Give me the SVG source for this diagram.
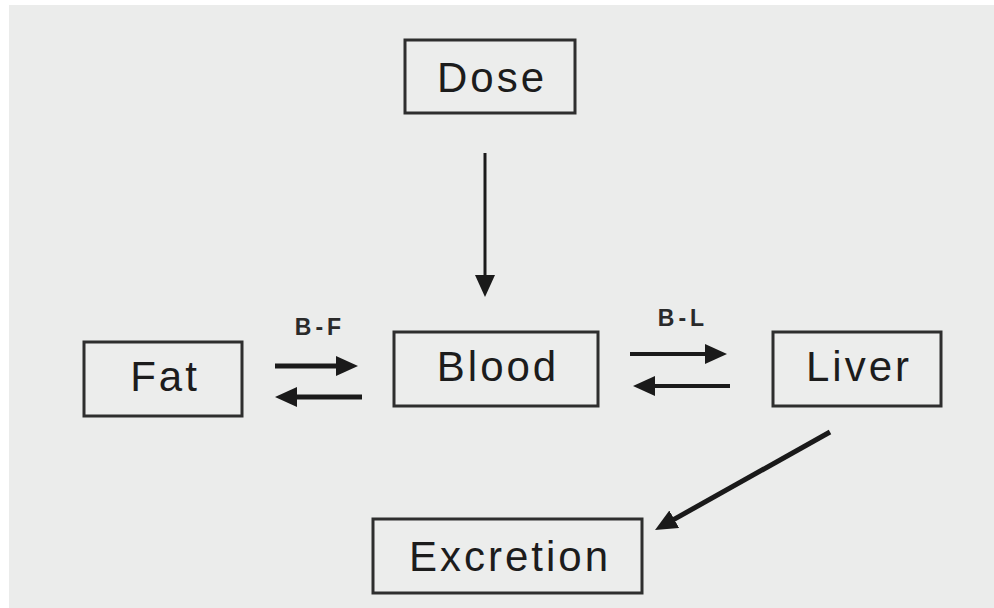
<svg xmlns="http://www.w3.org/2000/svg" width="994" height="608" viewBox="0 0 994 608">
<defs>
<style>
.box{fill:#ecedec;stroke:#2e2e2e;stroke-width:3}
.lbl{font-family:"Liberation Sans",Arial,sans-serif;font-size:42px;letter-spacing:3px;fill:#1c1c1c;text-anchor:middle}
.rate{font-family:"Liberation Sans",Arial,sans-serif;font-size:23px;font-weight:bold;letter-spacing:4px;fill:#2a2a2a;text-anchor:middle}
.arr{stroke:#1a1a1a;fill:none;marker-end:url(#head)}
</style>
<marker id="head" markerUnits="userSpaceOnUse" markerWidth="24" markerHeight="22" refX="10" refY="10" orient="auto" viewBox="0 0 24 22">
<path d="M0,0 L22,10 L0,20 z" fill="#1a1a1a"/>
</marker>
</defs>
<rect x="0" y="0" width="994" height="608" fill="#ffffff"/>
<rect x="9" y="5" width="985" height="603" fill="#ebeceb"/>
<g id="connectors">
<line class="arr" x1="485" y1="153" x2="485" y2="285" stroke-width="3"/>
<line class="arr" x1="275" y1="366" x2="346" y2="366" stroke-width="5"/>
<line class="arr" x1="362" y1="397" x2="287" y2="397" stroke-width="5"/>
<line class="arr" x1="630" y1="354" x2="715" y2="354" stroke-width="4"/>
<line class="arr" x1="730" y1="386" x2="645" y2="386" stroke-width="4"/>
<line class="arr" x1="830" y1="432" x2="665.5" y2="524.1" stroke-width="5"/>
<text class="rate" x="320" y="335">B-F</text>
<text class="rate" x="683" y="326">B-L</text>
</g>
<g id="dose">
<rect class="box" x="405" y="40" width="170" height="73"/>
<text class="lbl" x="492" y="92">Dose</text>
</g>
<g id="fat">
<rect class="box" x="84" y="342" width="158" height="74"/>
<text class="lbl" x="165" y="391">Fat</text>
</g>
<g id="blood">
<rect class="box" x="394" y="332" width="204" height="74"/>
<text class="lbl" x="498" y="381">Blood</text>
</g>
<g id="liver">
<rect class="box" x="773" y="332" width="168" height="74"/>
<text class="lbl" x="859" y="381">Liver</text>
</g>
<g id="excretion">
<rect class="box" x="373" y="519" width="269" height="74"/>
<text class="lbl" x="510" y="571">Excretion</text>
</g>
</svg>
